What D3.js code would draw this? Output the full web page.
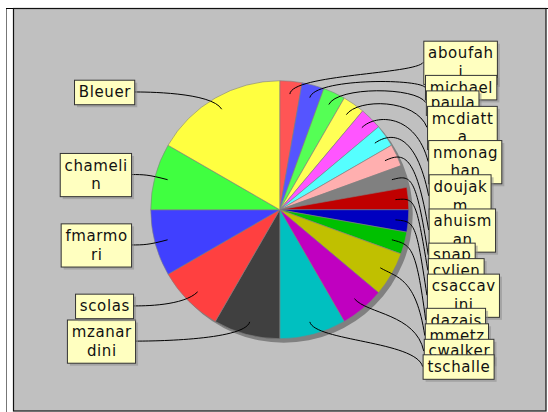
<!DOCTYPE html>
<html>
<head>
<meta charset="utf-8">
<script src="https://cdn.jsdelivr.net/npm/d3@7"></script>
<style>
  body { margin: 0; background: #fff; }
  svg { display: block; }
</style>
</head>
<body>
<svg width="548" height="412"></svg>
<script>
// slices, clockwise from 12 o'clock
const names = ["aboufahi", "michael", "paula", "mcdiatta", "nmonaghan", "doujakm", "ahuisman",
    "snap", "cylien", "csaccavini", "dazais", "mmetz", "cwalker", "tschalle",
    "mzanardini", "scolas", "fmarmori", "chamelin", "Bleuer"]
const counts = [1, 1, 1, 1, 1, 1, 1, 1, 1, 1, 1, 2, 2, 3, 3, 3, 3, 3, 6]
const palette = ["#ff5555", "#5555ff", "#55ff55", "#ffff55", "#ff55ff", "#55ffff", "#ffafaf",
    "#808080", "#c00000", "#0000c0", "#00c000", "#c0c000", "#c000c0", "#00c0c0",
    "#404040", "#ff4040", "#4040ff", "#40ff40", "#ffff40"]

const data = names.map((n, i) => ({name: n, count: counts[i], color: palette[i]}))

const svg = d3.select("svg")
const font = "DejaVu Sans"

// frame
const plot = {x: 13.5, y: 8.5, w: 532.5, h: 402.5}
svg.append("line").attr("x1", 6.5).attr("x2", 6.5).attr("y1", 8).attr("y2", 412)
    .attr("stroke", "#777")
svg.append("line").attr("x1", 6).attr("x2", 548).attr("y1", 8.5).attr("y2", 8.5)
    .attr("stroke", "#000")
svg.append("rect")
    .attr("x", plot.x).attr("y", plot.y).attr("width", plot.w).attr("height", plot.h)
    .attr("fill", "#c0c0c0").attr("stroke", "#111").attr("stroke-width", 1.2)

const cx = plot.x + plot.w / 2
const cy = plot.y + plot.h / 2
const radius = 129
const linkR = 136

const pie = d3.pie().sort(null).value(d => d.count)
const arcs = pie(data)
const arc = d3.arc().innerRadius(0).outerRadius(radius)

// shadow
svg.append("circle").attr("cx", cx + 4).attr("cy", cy + 4).attr("r", radius)
    .attr("fill", "#808080")

const g = svg.append("g").attr("transform", `translate(${cx},${cy})`)
g.selectAll("path")
    .data(arcs)
    .enter().append("path")
    .attr("d", arc)
    .attr("fill", d => d.data.color)
    .attr("stroke", "#808080")
    .attr("stroke-width", 0.6)

// label text wrapping
const measure = svg.append("text")
    .attr("font-family", font).attr("font-size", 15)
    .style("letter-spacing", "0.6px")
    .attr("x", -500).attr("y", -500)
const textW = s => { measure.text(s); return measure.node().getComputedTextLength() }
const maxW = 67
function wrap(name) {
    const lines = []
    let cur = ""
    for (const ch of name) {
        if (cur && textW(cur + ch) > maxW) { lines.push(cur); cur = ch }
        else cur += ch
    }
    lines.push(cur)
    return lines
}

const lineH = 18.7
const labels = arcs.map(d => {
    const a = (d.startAngle + d.endAngle) / 2
    const lines = wrap(d.data.name)
    return {
        name: d.data.name,
        angle: a,
        right: a < Math.PI,
        lines: lines,
        w: d3.max(lines, textW) + 8,
        h: 5.8 + lines.length * lineH,
        y: cy - Math.cos(a) * linkR
    }
})
measure.remove()

// spread labels evenly when they collide
function distribute(list) {
    list.sort((a, b) => a.y - b.y)
    let overlap = false
    for (let i = 1; i < list.length; i++) {
        if (list[i].y - list[i].h / 2 < list[i - 1].y + list[i - 1].h / 2 - 0.5) overlap = true
    }
    if (!overlap) return
    const minY = plot.y + plot.h * 0.08
    const height = plot.h * 0.84
    const gap = (height - d3.sum(list, d => d.h)) / (list.length - 1)
    let y = minY
    list.forEach(d => {
        y += d.h / 2
        d.y = y
        y += d.h / 2 + gap
    })
}
distribute(labels.filter(d => d.right))
distribute(labels.filter(d => !d.right))

labels.forEach(d => {
    const dy = d.y - cy
    const off = 149 - 2.5e-4 * dy * dy
    d.tx = d.right ? cx + off : cx - off
    d.bx = d.right ? d.tx : d.tx - d.w
})

// links
svg.append("g").selectAll("path")
    .data(labels)
    .enter().append("path")
    .attr("fill", "none")
    .attr("stroke", "#000")
    .attr("stroke-width", 1)
    .attr("d", d => {
        const s = Math.sin(d.angle), c = Math.cos(d.angle)
        const linkX = cx + s * radius * 0.9, linkY = cy - c * radius * 0.9
        const elbowX = cx + s * linkR, elbowY = cy - c * linkR
        const anchorX = d.right ? cx + linkR : cx - linkR
        const p = d3.path()
        p.moveTo(d.tx, d.y)
        p.bezierCurveTo(anchorX, elbowY, elbowX, elbowY, linkX, linkY)
        return p.toString()
    })

// label boxes, later ones drawn over earlier ones
const box = svg.append("g").selectAll("g")
    .data(labels)
    .enter().append("g")
    .attr("transform", d => `translate(${d.bx},${d.y - d.h / 2})`)

box.append("rect")
    .attr("x", 3).attr("y", 3)
    .attr("width", d => d.w).attr("height", d => d.h)
    .attr("fill", "#8c8c8c").attr("fill-opacity", 0.55)
box.append("rect")
    .attr("x", 0.5).attr("y", 0.5)
    .attr("width", d => d.w).attr("height", d => d.h)
    .attr("fill", "#ffffc0").attr("stroke", "#333").attr("stroke-width", 1)

box.each(function (d) {
    const t = d3.select(this).append("text")
        .attr("font-family", font).attr("font-size", 15)
        .style("letter-spacing", "0.6px")
        .attr("fill", "#111")
        .attr("text-anchor", "middle")
    d.lines.forEach((line, i) => {
        t.append("tspan")
            .attr("x", d.w / 2 + 0.8)
            .attr("y", 17.7 + i * lineH)
            .text(line)
    })
})
</script>
</body>
</html>
